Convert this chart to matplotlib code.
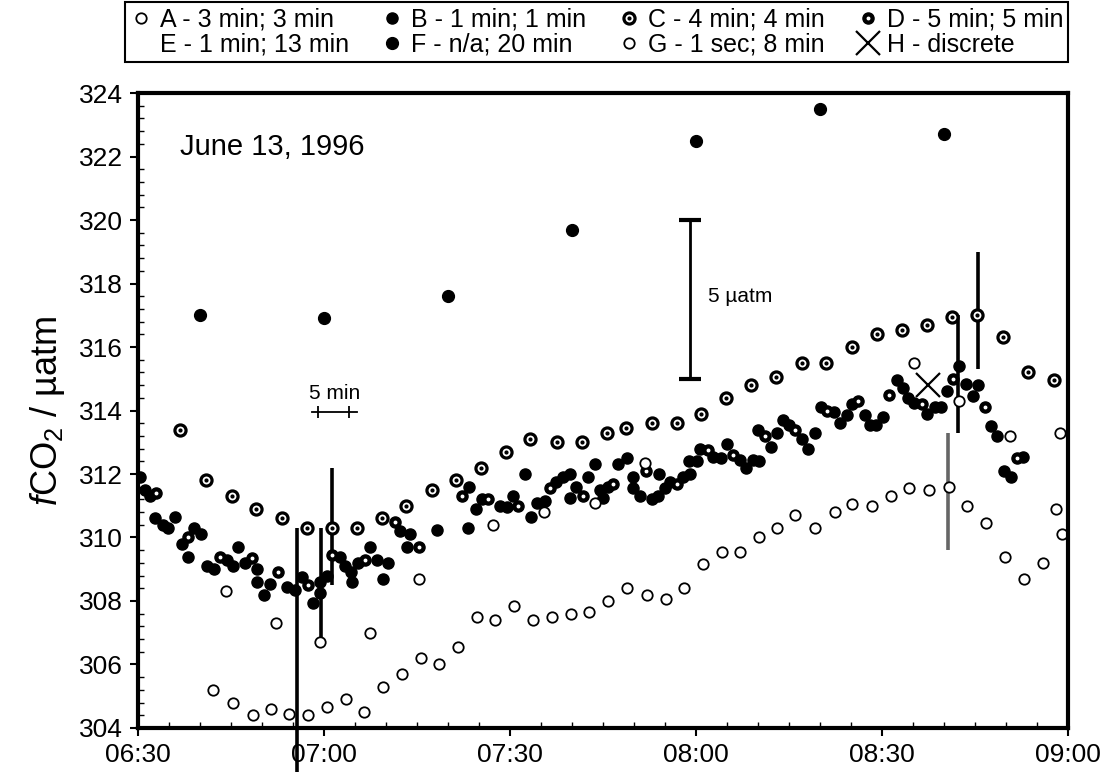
import matplotlib
matplotlib.use('Agg')
import matplotlib.pyplot as plt
from matplotlib.ticker import MultipleLocator, FuncFormatter
from matplotlib.lines import Line2D
from matplotlib.legend_handler import HandlerTuple

plt.rcParams['font.family'] = ['Liberation Sans', 'DejaVu Sans']
plt.rcParams['mathtext.fontset'] = 'custom'
plt.rcParams['mathtext.rm'] = 'Liberation Sans'
plt.rcParams['mathtext.it'] = 'Liberation Sans:italic'

# all times are minutes after 06:30
start_minute = 6 * 60 + 30

# A - 3 min; 3 min (open circles, lower band)
a_t = [12.1, 15.3, 18.5, 21.4, 24.4, 27.4, 30.5, 33.5, 36.5, 39.5, 42.6, 45.6, 48.5, 51.6,
       54.7, 57.6, 60.6, 63.7, 66.8, 69.8, 72.7, 75.8, 78.9, 82.1, 85.2, 88.1, 91.1, 94.2,
       97.1, 100.2, 103.1, 106.0, 109.2, 112.4, 115.2, 118.4, 121.5, 124.4, 127.6, 130.8,
       133.7, 136.8, 139.8, 142.9, 146.0, 149.1]
a_v = [305.2, 304.8, 304.4, 304.6, 304.45, 304.4, 304.65, 304.9, 304.5, 305.3, 305.7, 306.2,
       306.0, 306.55, 307.5, 307.4, 307.85, 307.4, 307.5, 307.6, 307.65, 308.0, 308.4, 308.2,
       308.05, 308.4, 309.15, 309.55, 309.55, 310.0, 310.3, 310.7, 310.3, 310.8, 311.05, 311.0,
       311.3, 311.55, 311.5, 311.6, 311.0, 310.45, 309.4, 308.7, 309.2, 310.1]

# B - 1 min; 1 min (filled circles)
b_t = [0.3, 1.1, 1.9, 2.7, 4.0, 4.9, 6.0, 7.1, 8.1, 9.0, 10.2, 11.1, 12.3, 14.4, 15.3, 16.1,
       17.3, 19.2, 19.2, 20.3, 21.3, 24.0, 25.3, 26.5, 28.2, 29.4, 29.4, 30.5, 32.6, 33.4,
       34.4, 34.5, 35.5, 37.4, 38.5, 39.5, 40.3, 42.3, 43.4, 43.9, 48.2, 53.2, 53.4, 54.5,
       55.5, 58.4, 59.5, 60.5, 62.4, 63.4, 64.4, 65.6, 67.4, 68.5, 69.7, 69.7, 70.6, 72.6,
       73.7, 74.5, 75.0, 75.8, 77.4, 78.9, 79.9, 79.9, 81.0, 82.9, 83.9, 84.0, 85.0, 85.8,
       87.9, 89.0, 88.9, 90.2, 90.6, 92.8, 94.0, 95.0, 97.1, 98.1, 99.2, 100.2, 100.0, 102.1,
       103.1, 104.0, 105.0, 107.1, 108.1, 109.2, 110.2, 112.3, 113.2, 114.4, 115.2, 117.3,
       118.1, 119.0, 120.2, 122.4, 123.4, 124.2, 125.2, 127.3, 128.5, 129.5, 130.5, 132.4,
       133.5, 134.7, 135.5, 137.6, 138.5, 139.7, 140.8, 142.7]
b_v = [311.9, 311.5, 311.3, 310.6, 310.4, 310.3, 310.65, 309.8, 309.4, 310.3, 310.1, 309.1,
       309.0, 309.3, 309.1, 309.7, 309.2, 309.0, 308.6, 308.2, 308.55, 308.45, 308.35, 308.75,
       307.95, 308.25, 308.6, 308.8, 309.4, 309.1, 308.9, 308.6, 309.2, 309.7, 309.3, 308.7,
       309.2, 310.2, 309.7, 310.1, 310.25, 310.3, 311.6, 310.9, 311.2, 311.0, 310.95, 311.3,
       312.0, 310.65, 311.1, 311.15, 311.75, 311.9, 312.0, 311.25, 311.6, 311.9, 312.3, 311.5,
       311.25, 311.6, 312.3, 312.5, 311.9, 311.55, 311.3, 311.2, 311.3, 312.0, 311.55, 311.75,
       311.9, 312.0, 312.4, 312.4, 312.8, 312.55, 312.5, 312.95, 312.45, 312.2, 312.45, 312.4,
       313.4, 312.85, 313.3, 313.7, 313.55, 313.1, 312.8, 313.3, 314.1, 313.95, 313.6, 313.85,
       314.2, 313.85, 313.55, 313.55, 313.8, 314.95, 314.7, 314.4, 314.25, 313.9, 314.1, 314.1,
       314.6, 315.4, 314.85, 314.45, 314.8, 313.5, 313.2, 312.1, 311.9, 312.55]

# C - 4 min; 4 min (circle with dot, upper band)
c_t = [6.8, 11.0, 15.2, 19.0, 23.2, 27.2, 31.3, 35.3, 39.4, 43.2, 47.4, 51.3, 55.3, 59.4,
       63.2, 67.6, 71.6, 75.6, 78.7, 82.9, 86.9, 90.8, 94.8, 98.9, 102.9, 107.1, 111.0,
       115.2, 119.2, 123.2, 127.3, 131.3, 135.3, 139.5, 143.5, 147.7]
c_v = [313.4, 311.8, 311.3, 310.9, 310.6, 310.3, 310.3, 310.3, 310.6, 311.0, 311.5, 311.8,
       312.2, 312.7, 313.1, 313.0, 313.0, 313.3, 313.45, 313.6, 313.6, 313.9, 314.4, 314.8,
       315.05, 315.5, 315.5, 316.0, 316.4, 316.55, 316.7, 316.95, 317.0, 316.3, 315.2, 314.95]

# D - 5 min; 5 min (dark circle with dot, inside the B cloud)
d_t = [2.9, 8.1, 13.2, 18.4, 22.6, 27.4, 31.3, 36.6, 41.5, 45.3, 52.3, 56.5, 61.3, 66.5,
       71.8, 76.6, 81.9, 86.9, 91.9, 96.0, 101.1, 106.0, 111.1, 116.1, 121.1, 126.5, 131.5,
       136.6, 141.8]
d_v = [311.4, 310.0, 309.4, 309.35, 308.9, 308.5, 309.45, 309.3, 310.5, 309.7, 311.3, 311.2,
       311.0, 311.55, 311.3, 311.7, 312.1, 311.7, 312.75, 312.6, 313.2, 313.4, 314.0, 314.3,
       314.5, 314.2, 315.0, 314.1, 312.5]

# E - 1 min; 13 min (ranges drawn as vertical bars)
e_t = [25.6, 29.5, 31.3, 130.6, 132.3, 135.5]
e_low = [302.6, 306.7, 308.5, 309.6, 313.3, 315.3]
e_high = [310.3, 310.3, 312.2, 313.3, 317.0, 319.0]

# F - n/a; 20 min
f_t = [10, 30, 50, 70, 90, 110, 130]
f_v = [317.0, 316.9, 317.6, 319.7, 322.5, 323.5, 322.7]

# G - 1 sec; 8 min (open circles)
g_t = [14.2, 22.3, 29.4, 37.4, 45.3, 57.3, 65.5, 73.7, 81.8, 125.2, 132.4, 140.6, 148.1, 148.7]
g_v = [308.3, 307.3, 306.7, 307.0, 308.7, 310.4, 310.8, 311.1, 312.35, 315.5, 314.3, 313.2,
       310.9, 313.3]

# H - discrete
h_t = [127.4]
h_v = [314.8]

labels = ['A - 3 min; 3 min', 'B - 1 min; 1 min', 'C - 4 min; 4 min', 'D - 5 min; 5 min',
          'E - 1 min; 13 min', 'F - n/a; 20 min', 'G - 1 sec; 8 min', 'H - discrete']

fig = plt.figure(figsize=(11.11, 7.8), dpi=100)
ax = fig.add_axes([0.1242, 0.0667, 0.837, 0.814])

hb, = ax.plot(b_t, b_v, 'o', ms=8, color='black', mec='black')
hd, = ax.plot(d_t, d_v, 'o', ms=8, color='black', mec='black')
hd_dot, = ax.plot(d_t, d_v, 'o', ms=1.8, color='white', mec='white')
ha, = ax.plot(a_t, a_v, 'o', ms=7.5, mfc='white', mec='black', mew=1.3)
hg, = ax.plot(g_t, g_v, 'o', ms=7.5, mfc='white', mec='black', mew=1.3)
hc, = ax.plot(c_t, c_v, 'o', ms=8, mfc='white', mec='black', mew=2.3)
hc_dot, = ax.plot(c_t, c_v, 'o', ms=2, color='black')
hf, = ax.plot(f_t, f_v, 'o', ms=8.5, color='black')
hh, = ax.plot(h_t, h_v, 'x', ms=17, mew=1.6, color='black')

e_colors = ['black', 'black', 'black', '0.4', 'black', 'black']
for t, lo, hi, col in zip(e_t, e_low, e_high, e_colors):
    ax.vlines(t, lo, hi, colors=col, lw=2.6, clip_on=False, zorder=1)
he = Line2D([], [], linestyle='none')

# 5 min scale bar
ax.plot([28.0, 35.3], [313.95, 313.95], color='black', lw=1.3)
ax.vlines([29.0, 34.0], 313.75, 314.15, colors='black', lw=1.3)
ax.text(31.7, 314.55, '5 min', ha='center', va='center', fontsize=15)

# 5 uatm scale bar
ax.errorbar([89.0], [317.5], yerr=[2.5], fmt='none', ecolor='black', elinewidth=2,
            capsize=8, capthick=3)
ax.text(92.0, 317.6, '5 µatm', ha='left', va='center', fontsize=15)

ax.text(6.8, 322.3, 'June 13, 1996', ha='left', va='center', fontsize=21)

ax.set_xlim(0, 150)
ax.set_ylim(304, 324)
ax.xaxis.set_major_locator(MultipleLocator(30))
ax.xaxis.set_minor_locator(MultipleLocator(5))
ax.xaxis.set_major_formatter(FuncFormatter(
    lambda m, _: '%02d:%02d' % divmod(start_minute + int(round(m)), 60)))
ax.yaxis.set_major_locator(MultipleLocator(2))
ax.yaxis.set_minor_locator(MultipleLocator(0.4))
ax.tick_params(which='major', direction='out', length=6, width=1.5, labelsize=19, pad=5)
ax.tick_params(which='minor', direction='in', length=4, width=1)
for s in ax.spines.values():
    s.set_linewidth(3)

ax.set_ylabel(r'$f$CO$_2$ / µatm', fontsize=26, labelpad=8)

handles = [ha, he, hb, hf, (hc, hc_dot), hg, (hd, hd_dot), hh]
order = [0, 4, 1, 5, 2, 6, 3, 7]
leg = fig.legend(handles, [labels[i] for i in order], loc='upper left',
                 bbox_to_anchor=(0.1125, 0.997, 0.849, 0), mode='expand', ncol=4,
                 fontsize=18, frameon=True, fancybox=False, edgecolor='black',
                 framealpha=1, handlelength=0.9, handletextpad=0.3, labelspacing=0.05,
                 borderpad=0.2, borderaxespad=0,
                 handler_map={tuple: HandlerTuple(ndivide=1)})
leg.get_frame().set_linewidth(1.5)

fig.savefig('out.png', dpi=100)
